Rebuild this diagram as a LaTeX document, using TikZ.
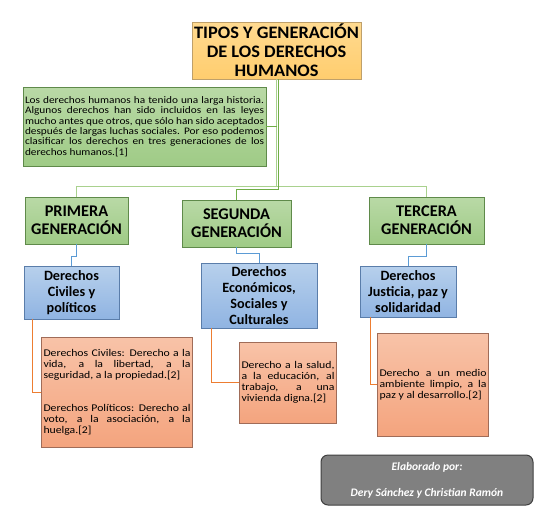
\documentclass[tikz,border=0pt]{standalone}
\usepackage{fontspec}
\setmainfont{Carlito}
\newfontfamily\widefont[FakeStretch=1.14]{Carlito}
\newfontfamily\introfont[FakeStretch=1.13]{Carlito}
\newfontfamily\headfont[FakeStretch=1.05]{Carlito}
\newcommand\nohyphs{\hyphenpenalty=10000\relax\exhyphenpenalty=10000\relax}
\begin{document}
\begin{tikzpicture}[x=1pt,y=-1pt]
\definecolor{lightgreen}{HTML}{A9D18E}
\definecolor{darkgreen}{HTML}{70AD47}
\definecolor{blueln}{HTML}{5B9BD5}
\definecolor{orangeln}{HTML}{ED7D31}
\definecolor{gtop}{HTML}{B9D9A6}
\definecolor{gbot}{HTML}{9FCB86}
\definecolor{gborder}{HTML}{5F8A4A}
\definecolor{btop}{HTML}{B7D0EC}
\definecolor{bbot}{HTML}{90B4E2}
\definecolor{bborder}{HTML}{5A7DAA}
\definecolor{otop}{HTML}{F8C3A8}
\definecolor{obot}{HTML}{F4A47E}
\definecolor{oborder}{HTML}{A06C58}
\definecolor{ttop}{HTML}{FFDA90}
\definecolor{tbot}{HTML}{FFCD6E}
\definecolor{tborder}{HTML}{BFA06A}
\tikzset{
  box/.style={rectangle, draw, line width=0.8pt, inner sep=2pt, align=center, anchor=center},
  titlebox/.style={box, draw=tborder, top color=ttop, bottom color=tbot,
     font=\headfont\fontsize{17.5}{19}\selectfont\bfseries},
  genbox/.style={box, draw=gborder, top color=gtop, bottom color=gbot,
     font=\fontsize{16.3}{18}\selectfont\bfseries},
  bluebox/.style={box, draw=bborder, top color=btop, bottom color=bbot,
     font=\fontsize{14.2}{16.2}\selectfont\bfseries},
  orbox/.style={box, draw=oborder, top color=otop, bottom color=obot,
     font=\widefont\fontsize{10.3}{11}\selectfont\nohyphs, align=justify},
  introbox/.style={box, draw=gborder, top color=gtop, bottom color=gbot, align=justify,
     font=\introfont\fontsize{10}{10.4}\selectfont\nohyphs, text width=239pt, minimum width=243pt, minimum height=79pt},
  greenline/.style={draw=lightgreen, line width=1pt},
  darkgreenline/.style={draw=darkgreen, line width=1pt},
  blueline/.style={draw=blueln, line width=1pt},
  orline/.style={draw=orangeln, line width=1pt}
}
\useasboundingbox (0,0) rectangle (560,515);
\fill[white] (0,0) rectangle (560,515);

% nodes
\node[titlebox, minimum width=167pt, minimum height=57pt] (title) at (276.5,50.5)
  {TIPOS Y GENERACIÓN\\DE LOS DERECHOS\\HUMANOS};
\node[introbox] (intro) at (144.5,126.5)
  {Los derechos humanos ha tenido una larga historia.\linebreak
   Algunos derechos han sido incluidos en las leyes\linebreak
   mucho antes que otros, que sólo han sido aceptados\linebreak
   después de largas luchas sociales. Por eso podemos\linebreak
   clasificar los derechos en tres generaciones de los\linebreak
   derechos humanos.[1]};

\node[genbox, minimum width=103pt, minimum height=47pt] (prim) at (76.5,220.5) {PRIMERA\\GENERACIÓN};
\node[genbox, minimum width=109pt, minimum height=47pt] (seg) at (236.5,223.5) {SEGUNDA\\GENERACIÓN};
\node[genbox, minimum width=115pt, minimum height=47pt] (ter) at (426.5,220.5) {TERCERA\\GENERACIÓN};

\node[bluebox, minimum width=95pt, minimum height=53pt] (civ) at (71.5,292.5) {Derechos\\Civiles y\\políticos};
\node[bluebox, minimum width=116pt, minimum height=65pt] (eco) at (259,295.5) {Derechos\\Económicos,\\Sociales y\\Culturales};
\node[bluebox, minimum width=96pt, minimum height=51pt] (jus) at (408,291.5) {Derechos\\Justicia, paz y\\solidaridad};

\node[orbox, text width=147pt, minimum width=150pt, minimum height=110pt] (o1) at (117,392)
  {Derechos Civiles: Derecho a la\linebreak
   vida, a la libertad, a la\linebreak
   seguridad, a la propiedad.[2]\par\vspace{22pt}
   Derechos Políticos: Derecho al\linebreak
   voto, a la asociación, a la\linebreak
   huelga.[2]};
\node[orbox, text width=93pt, minimum width=96pt, minimum height=81pt] (o2) at (288,382.5)
  {Derecho a la salud,\linebreak
   a la educación, al\linebreak
   trabajo, a una\linebreak
   vivienda digna.[2]};
\node[orbox, text width=107pt, minimum width=110pt, minimum height=103pt] (o3) at (433,384.5)
  {Derecho a un medio\linebreak
   ambiente limpio, a la\linebreak
   paz y al desarrollo.[2]};

\node[rectangle, rounded corners=7pt, draw=black!75, line width=1pt, fill=black!50, text=white,
  minimum width=212pt, minimum height=50pt, align=center,
  font=\fontsize{11.5}{26}\selectfont\bfseries\itshape] (foot) at (427,480)
  {Elaborado por:\\Dery Sánchez y Christian Ramón};

% green connectors
\draw[greenline] (title.south) -- ++(0,107) coordinate (hub);
\draw[greenline] (prim.north) |- (hub) -| (ter.north);
\draw[darkgreenline] ([xshift=2pt]title.south) -- ++(0,110) -| (seg.north);
\draw[darkgreenline] (intro.east) -- (intro.east -| title.south);

% blue connectors
\draw[blueline] (prim.south) -- ++(0,12) -| (civ.north);
\draw[blueline] (seg.south) -- ++(0,6) -| (eco.north);
\draw[blueline] (ter.south) -- ++(0,12) -| (jus.north);

% orange connectors
\draw[orline] ([xshift=9pt]civ.south west) |- (o1.west);
\draw[orline] ([xshift=11pt]eco.south west) |- (o2.west);
\draw[orline] ([xshift=11pt]jus.south west) |- (o3.west);
\end{tikzpicture}
\end{document}
